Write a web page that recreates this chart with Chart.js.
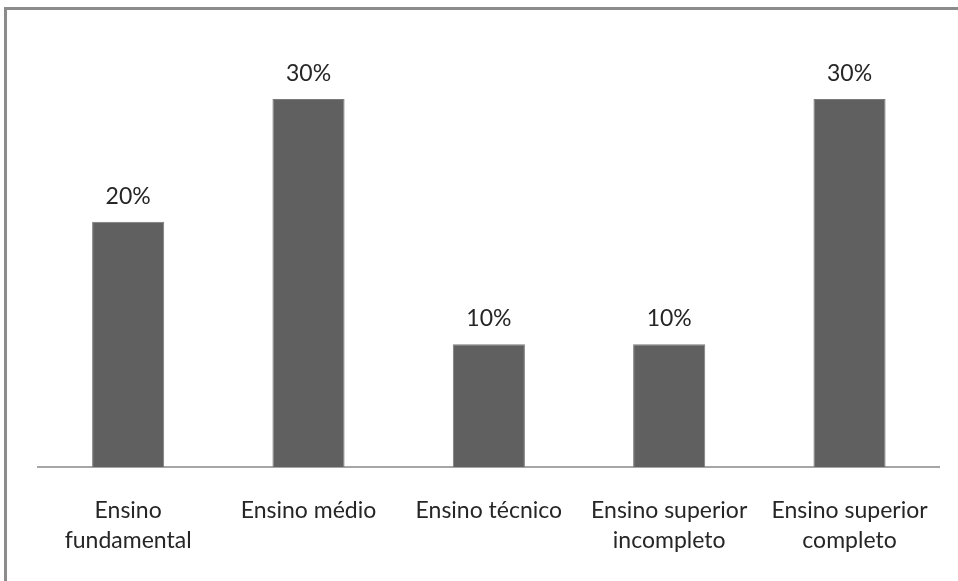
<!DOCTYPE html>
<html>
<head>
<meta charset="utf-8">
<script src="https://cdn.jsdelivr.net/npm/chart.js@4/dist/chart.umd.min.js"></script>
<style>
  html, body { margin: 0; padding: 0; background: #fff; }
  #wrap { position: relative; width: 958px; height: 581px; }
  #frame { position: absolute; left: 4px; top: 7px; right: 0; bottom: 0;
           border-top: 3px solid #8c8c8c; border-left: 3px solid #8c8c8c; }
  canvas { position: absolute; left: 0; top: 0; }
</style>
</head>
<body>
<div id="wrap">
  <div id="frame"></div>
  <canvas id="barChart" width="958" height="581"></canvas>
</div>
<script>
// dados
const categorias = [
    ['Ensino', 'fundamental'],
    'Ensino médio',
    'Ensino técnico',
    ['Ensino superior', 'incompleto'],
    ['Ensino superior', 'completo']
];
const percentuais = [20, 30, 10, 10, 30];

const fonte = "Lato, 'Open Sans', sans-serif";

// rótulos de valor em cima das barras
const rotulos = {
    id: 'rotulos',
    afterDatasetsDraw(chart) {
        const ctx = chart.ctx;
        const meta = chart.getDatasetMeta(0);
        ctx.save();
        ctx.font = '23px ' + fonte;
        ctx.fillStyle = '#262626';
        ctx.textAlign = 'center';
        ctx.textBaseline = 'alphabetic';
        meta.data.forEach(function(bar, i) {
            ctx.fillText(percentuais[i] + '%', bar.x, bar.y - 18);
        });
        ctx.restore();
    }
};

const ctxBar = document.getElementById('barChart').getContext('2d');
const barChart = new Chart(ctxBar, {
    type: 'bar',
    data: {
        labels: categorias,
        datasets: [{
            data: percentuais,
            backgroundColor: '#606060',
            borderColor: '#7a7a7a',
            borderWidth: 1,
            barPercentage: 0.4,
            categoryPercentage: 1.0
        }]
    },
    options: {
        responsive: false,
        animation: false,
        layout: { padding: { left: 38, right: 14, top: 99, bottom: 0 } },
        plugins: {
            legend: { display: false },
            tooltip: { enabled: false }
        },
        scales: {
            x: {
                grid: { display: false, drawTicks: false },
                border: { display: true, color: '#a6a6a6', width: 2 },
                ticks: {
                    color: '#262626',
                    padding: 29,
                    maxRotation: 0,
                    autoSkip: false,
                    font: { family: fonte, size: 23, lineHeight: 1.3 }
                },
                afterFit: function(scale) { scale.height = 114; }
            },
            y: {
                display: false,
                min: 0,
                max: 30
            }
        }
    },
    plugins: [rotulos]
});
</script>
</body>
</html>
